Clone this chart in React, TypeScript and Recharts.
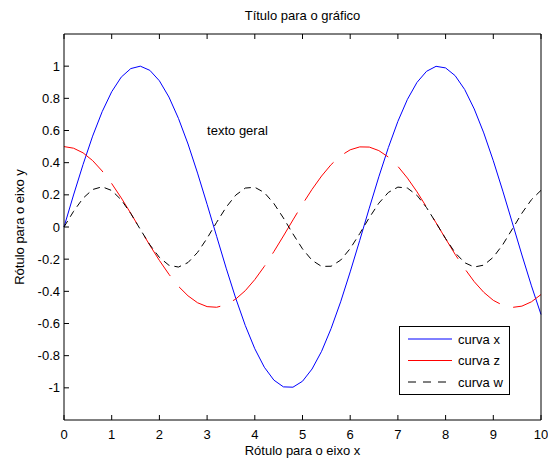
import React from "react";
import { LineChart, Line, XAxis, YAxis, Legend, ReferenceDot } from "recharts";

const FONT = '"Liberation Sans", Arial, sans-serif';

const tValues = [
  0, 0.2, 0.4, 0.6, 0.8, 1, 1.2, 1.4, 1.6, 1.8, 2, 2.2, 2.4, 2.6, 2.8, 3, 3.2,
  3.4, 3.6, 3.8, 4, 4.2, 4.4, 4.6, 4.8, 5, 5.2, 5.4, 5.6, 5.8, 6, 6.2, 6.4, 6.6,
  6.8, 7, 7.2, 7.4, 7.6, 7.8, 8, 8.2, 8.4, 8.6, 8.8, 9, 9.2, 9.4, 9.6, 9.8, 10,
];

const curvaX = [
  0, 0.199, 0.389, 0.565, 0.717, 0.841, 0.932, 0.985, 1.0, 0.974, 0.909, 0.808,
  0.675, 0.516, 0.335, 0.141, -0.058, -0.256, -0.443, -0.612, -0.757, -0.872,
  -0.952, -0.994, -0.996, -0.959, -0.883, -0.773, -0.631, -0.465, -0.279,
  -0.083, 0.117, 0.312, 0.494, 0.657, 0.794, 0.899, 0.968, 0.999, 0.989, 0.941,
  0.855, 0.734, 0.585, 0.412, 0.223, 0.025, -0.174, -0.366, -0.544,
];

const curvaZ = [
  0.5, 0.49, 0.461, 0.413, 0.348, 0.27, 0.181, 0.085, -0.015, -0.114, -0.208,
  -0.294, -0.369, -0.428, -0.471, -0.495, -0.499, -0.483, -0.448, -0.396,
  -0.327, -0.245, -0.153, -0.056, 0.044, 0.142, 0.234, 0.317, 0.388, 0.443,
  0.48, 0.498, 0.497, 0.475, 0.435, 0.377, 0.304, 0.219, 0.124, 0.026, -0.073,
  -0.17, -0.259, -0.34, -0.406, -0.456, -0.487, -0.5, -0.492, -0.465, -0.42,
];

const curvaW = [
  0, 0.097, 0.179, 0.233, 0.25, 0.227, 0.169, 0.084, -0.015, -0.111, -0.189,
  -0.238, -0.249, -0.221, -0.158, -0.07, 0.029, 0.123, 0.198, 0.242, 0.247,
  0.214, 0.146, 0.056, -0.043, -0.136, -0.207, -0.245, -0.244, -0.206, -0.134,
  -0.041, 0.058, 0.148, 0.215, 0.248, 0.242, 0.197, 0.121, 0.026, -0.072,
  -0.16, -0.222, -0.249, -0.237, -0.188, -0.109, -0.012, 0.086, 0.17, 0.228,
];

const xTicks = [0, 1, 2, 3, 4, 5, 6, 7, 8, 9, 10];
const yTicks = [-1, -0.8, -0.6, -0.4, -0.2, 0, 0.2, 0.4, 0.6, 0.8, 1];

const data = tValues.map((t, i) => ({
  t,
  x: curvaX[i],
  z: curvaZ[i],
  w: curvaW[i],
}));

const fmt = (v: number) => String(Math.round(v * 10) / 10);

const tickStyle = { fill: "#000", fontSize: 13, fontFamily: FONT };

const YLabel = (props: any) => {
  const { x, y, width, height } = props.viewBox;
  const cx = x + width - 45;
  const cy = y + height / 2;
  return (
    <text
      x={cx}
      y={cy}
      transform={`rotate(-90 ${cx} ${cy})`}
      textAnchor="middle"
      dominantBaseline="central"
      fill="#000"
      fontSize={13}
      fontFamily={FONT}
    >
      Rótulo para o eixo y
    </text>
  );
};

const LegendBox = () => {
  const rows = [
    { name: "curva x", color: "#0000ff", dash: undefined },
    { name: "curva z", color: "#ff0000", dash: undefined },
    { name: "curva w", color: "#000000", dash: "8 7" },
  ];
  return (
    <svg width={111} height={69} style={{ display: "block" }}>
      <rect x={0.5} y={0.5} width={110} height={68} fill="#fff" stroke="#000" />
      {rows.map((r, i) => (
        <g key={r.name}>
          <line
            x1={9}
            x2={53}
            y1={13 + i * 21.5}
            y2={13 + i * 21.5}
            stroke={r.color}
            strokeDasharray={r.dash}
          />
          <text
            x={59}
            y={13 + i * 21.5}
            dominantBaseline="central"
            fontSize={13}
            fontFamily={FONT}
            fill="#000"
          >
            {r.name}
          </text>
        </g>
      ))}
    </svg>
  );
};

export default function App() {
  return (
    <div
      style={{
        position: "absolute",
        left: 0,
        top: 0,
        width: 548,
        height: 459,
        background: "#fff",
      }}
    >
      <LineChart
        width={548}
        height={459}
        data={data}
        margin={{ top: 14, right: 6, left: 24, bottom: 9 }}
      >
        <XAxis
          dataKey="t"
          type="number"
          domain={[0, 10]}
          ticks={xTicks}
          height={30}
          stroke="#000"
          tickSize={-5}
          tickMargin={15}
          tick={tickStyle}
          interval={0}
          label={{
            value: "Rótulo para o eixo x",
            position: "bottom",
            offset: -4,
            fill: "#000",
            fontSize: 13,
            fontFamily: FONT,
          }}
        />
        <XAxis
          xAxisId="top"
          orientation="top"
          dataKey="t"
          type="number"
          domain={[0, 10]}
          ticks={xTicks}
          height={20}
          stroke="#000"
          tickSize={-5}
          tick={() => <g />}
          interval={0}
          label={{
            value: "Título para o gráfico",
            position: "top",
            offset: -6,
            fill: "#000",
            fontSize: 13,
            fontFamily: FONT,
          }}
        />
        <YAxis
          type="number"
          domain={[-1.2, 1.2]}
          ticks={yTicks}
          width={40}
          stroke="#000"
          tickSize={-5}
          tickMargin={9}
          tick={tickStyle}
          tickFormatter={fmt}
          interval={0}
          label={<YLabel />}
        />
        <YAxis
          yAxisId="right"
          orientation="right"
          type="number"
          domain={[-1.2, 1.2]}
          ticks={yTicks}
          width={1}
          stroke="#000"
          tickSize={-5}
          tick={() => <g />}
          interval={0}
        />
        <Line
          dataKey="x"
          name="curva x"
          stroke="#0000ff"
          strokeWidth={1}
          dot={false}
          isAnimationActive={false}
        />
        <Line
          dataKey="z"
          name="curva z"
          stroke="#ff0000"
          strokeWidth={1}
          strokeDasharray="48 14"
          dot={false}
          isAnimationActive={false}
        />
        <Line
          dataKey="w"
          name="curva w"
          stroke="#000000"
          strokeWidth={1}
          strokeDasharray="7 5"
          dot={false}
          isAnimationActive={false}
        />
        <ReferenceDot
          x={3}
          y={0.6}
          r={0}
          shape={(p: any) => (
            <text
              x={p.cx}
              y={p.cy}
              dominantBaseline="central"
              fontSize={13}
              fontFamily={FONT}
              fill="#000"
            >
              texto geral
            </text>
          )}
        />
        <Legend
          layout="vertical"
          align="center"
          verticalAlign="middle"
          content={() => <LegendBox />}
          wrapperStyle={{ left: 399, top: 326, width: 111, height: 69 }}
        />
      </LineChart>
    </div>
  );
}
